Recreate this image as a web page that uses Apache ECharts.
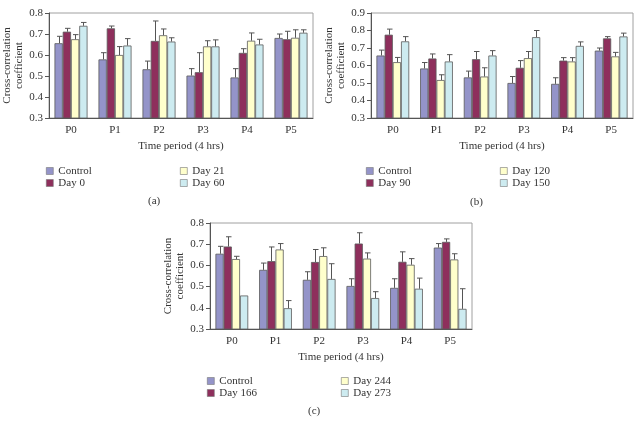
<!DOCTYPE html>
<html>
<head>
<meta charset="utf-8">
<script src="https://cdn.jsdelivr.net/npm/echarts@6/dist/echarts.min.js"></script>
<style>html,body{margin:0;padding:0;background:#fff}#c{width:643px;height:423px}</style>
</head>
<body>
<div id="c"></div>
<script>
const categories = ['P0','P1','P2','P3','P4','P5'];
const colors = ['#9494c9','#8e2f5c','#ffffcc','#cdebf0'];

// Chart (a)
const namesA = ['Control','Day 0','Day 21','Day 60'];
const controlA = [0.656,0.579,0.532,0.502,0.493,0.681];
const day0A    = [0.711,0.727,0.667,0.518,0.610,0.675];
const day21A   = [0.675,0.600,0.694,0.641,0.668,0.682];
const day60A   = [0.739,0.645,0.664,0.641,0.650,0.706];
const controlAErr = [0.689,0.611,0.571,0.535,0.535,0.700];
const day0AErr    = [0.727,0.738,0.762,0.611,0.630,0.713];
const day21AErr   = [0.697,0.640,0.724,0.668,0.705,0.720];
const day60AErr   = [0.755,0.678,0.682,0.672,0.675,0.720];

// Chart (b)
const namesB = ['Control','Day 90','Day 120','Day 150'];
const controlB = [0.657,0.583,0.532,0.500,0.495,0.685];
const day90B   = [0.776,0.640,0.636,0.587,0.628,0.755];
const day120B  = [0.619,0.517,0.537,0.642,0.623,0.652];
const day150B  = [0.738,0.623,0.657,0.762,0.712,0.766];
const controlBErr = [0.688,0.617,0.568,0.537,0.530,0.700];
const day90BErr   = [0.808,0.666,0.680,0.628,0.645,0.765];
const day120BErr  = [0.646,0.547,0.587,0.680,0.645,0.675];
const day150BErr  = [0.765,0.662,0.685,0.800,0.735,0.785];

// Chart (c)
const namesC = ['Control','Day 166','Day 244','Day 273'];
const controlC = [0.655,0.579,0.532,0.503,0.494,0.684];
const day166C  = [0.689,0.620,0.616,0.703,0.617,0.711];
const day244C  = [0.630,0.675,0.644,0.632,0.603,0.628];
const day273C  = [0.458,0.398,0.536,0.446,0.490,0.395];
const controlCErr = [0.690,0.611,0.570,0.537,0.537,0.703];
const day166CErr  = [0.735,0.687,0.675,0.754,0.664,0.725];
const day244CErr  = [0.643,0.703,0.683,0.659,0.632,0.655];
const day273CErr  = [0.458,0.434,0.608,0.476,0.540,0.490];

const yTicksA = {min:0.3,max:0.8,interval:0.1};
const yTicksB = {min:0.3,max:0.9,interval:0.1};
const yTicksC = {min:0.3,max:0.8,interval:0.1};

const FONT = '"Liberation Serif","DejaVu Serif",serif';
const TXT = '#333';
const GAP = 0.25;

const panels = [
  {names:namesA, vals:[controlA,day0A,day21A,day60A], errs:[controlAErr,day0AErr,day21AErr,day60AErr], y:yTicksA,
   grid:{left:49,top:13,width:264,height:105}, legendL:[46,180], legendTop:165, tag:'(a)', tagPos:[155,203]},
  {names:namesB, vals:[controlB,day90B,day120B,day150B], errs:[controlBErr,day90BErr,day120BErr,day150BErr], y:yTicksB,
   grid:{left:371,top:13,width:262,height:105}, legendL:[366,500], legendTop:165, tag:'(b)', tagPos:[477,204]},
  {names:namesC, vals:[controlC,day166C,day244C,day273C], errs:[controlCErr,day166CErr,day244CErr,day273CErr], y:yTicksC,
   grid:{left:210,top:223,width:262,height:106}, legendL:[207,341], legendTop:375, tag:'(c)', tagPos:[315,413]}
];

const grids=[], xAxes=[], yAxes=[], series=[], legends=[], graphics=[];
panels.forEach((p,pi)=>{
  grids.push(Object.assign({show:true,borderColor:'#a0a0a0',borderWidth:1,backgroundColor:'transparent'},p.grid));
  xAxes.push({type:'category',gridIndex:pi,data:categories,
    name:'Time period (4 hrs)',nameLocation:'middle',nameGap:23,
    nameTextStyle:{fontFamily:FONT,fontSize:11,color:TXT},
    axisLine:{lineStyle:{color:'#555'}},axisTick:{length:4,lineStyle:{color:'#555'}},
    axisLabel:{fontFamily:FONT,fontSize:11,color:TXT,margin:7},splitLine:{show:false}});
  yAxes.push({type:'value',gridIndex:pi,min:p.y.min,max:p.y.max,interval:p.y.interval,
    name:'Cross-correlation\ncoefficient',nameLocation:'middle',nameGap:22,nameRotate:90,
    nameTextStyle:{fontFamily:FONT,fontSize:11,color:TXT,lineHeight:12},
    axisLine:{show:true,lineStyle:{color:'#555'}},axisTick:{show:true,length:4,lineStyle:{color:'#555'}},
    axisLabel:{fontFamily:FONT,fontSize:11,color:TXT,margin:6,formatter:v=>v.toFixed(1)},splitLine:{show:false}});
  p.names.forEach((nm,si)=>{
    series.push({type:'bar',name:nm,xAxisIndex:pi,yAxisIndex:pi,data:p.vals[si],
      barGap:'0%',barCategoryGap:(GAP*100)+'%',
      itemStyle:{color:colors[si],borderColor:'#5a5a5a',borderWidth:0.8},z:2});
  });
  p.names.forEach((nm,si)=>{
    const data = categories.map((c,ci)=>[ci,p.errs[si][ci],p.vals[si][ci]]);
    series.push({type:'custom',xAxisIndex:pi,yAxisIndex:pi,data:data,z:3,silent:true,
      encode:{x:0,y:[1,2]},
      renderItem:(params,api)=>{
        const ci=api.value(0);
        const top=api.coord([ci,api.value(1)]);
        const base=api.coord([ci,api.value(2)]);
        const band=api.size([1,0])[0];
        const gw=band*(1-GAP), bw=gw/4;
        const x=Math.round(top[0]-gw/2+bw*(si+0.5))+0.5;
        if (Math.abs(base[1]-top[1])<1) return {type:'group',children:[]};
        return {type:'group',children:[
          {type:'line',shape:{x1:x,y1:base[1],x2:x,y2:top[1]},style:{stroke:'#555',lineWidth:1}},
          {type:'line',shape:{x1:x-2.5,y1:top[1],x2:x+3,y2:top[1]},style:{stroke:'#555',lineWidth:1}}
        ]};
      }});
  });
  [[0,1],[2,3]].forEach((pair,k)=>{
    legends.push({orient:'vertical',left:p.legendL[k],top:p.legendTop,itemGap:0,
      itemWidth:7,itemHeight:7,icon:'rect',selectedMode:false,
      itemStyle:{borderColor:'#777',borderWidth:0.6},
      data:pair.map(i=>p.names[i]),
      textStyle:{fontFamily:FONT,fontSize:11,color:TXT,lineHeight:12,padding:[0,0,0,0]},padding:0});
  });
  graphics.push({type:'text',left:p.tagPos[0]-7,top:p.tagPos[1]-7,
    style:{text:p.tag,font:'11px '+FONT,fill:TXT}});
});

const chart = echarts.init(document.getElementById('c'),null,{renderer:'canvas'});
chart.setOption({animation:false,backgroundColor:'#fff',grid:grids,xAxis:xAxes,yAxis:yAxes,
  legend:legends,series:series,graphic:graphics});
</script>
</body>
</html>
